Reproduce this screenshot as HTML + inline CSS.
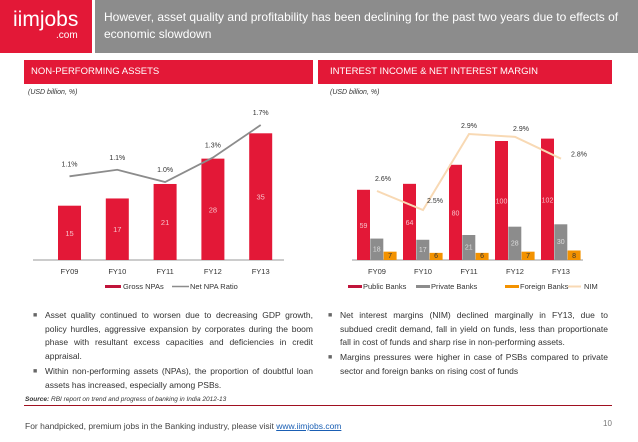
<!DOCTYPE html>
<html><head><meta charset="utf-8"><style>
body{margin:0;width:638px;height:442px;background:#fff;font-family:"Liberation Sans",sans-serif;position:relative;overflow:hidden}
.abs{position:absolute}
.bul{position:absolute;font-size:8.5px;color:#333;line-height:13.7px;text-align:justify}
.bul .b{position:absolute;left:-12px;top:0;font-size:7px;color:#666}
</style></head><body>
<div class="abs" style="left:0;top:0;width:92px;height:53px;background:#e31837"></div>
<div class="abs" style="left:13px;top:10px;color:#fff;font-size:21px;line-height:20px">iimjobs</div>
<div class="abs" style="left:56px;top:30px;color:#fff;font-size:10px">.com</div>
<div class="abs" style="left:95px;top:0;width:543px;height:53px;background:#8c8c8c"></div>
<div class="abs" style="left:104px;top:9px;width:530px;color:#fff;font-size:12px;line-height:17px">However, asset quality and profitability has been declining for the past two years due to effects of economic slowdown</div>
<div class="abs" style="left:24px;top:60px;width:289px;height:24px;background:#e31837;color:#fff;font-size:9.5px;line-height:24px;padding-left:7px;box-sizing:border-box">NON-PERFORMING ASSETS</div>
<div class="abs" style="left:318px;top:60px;width:294px;height:24px;background:#e31837;color:#fff;font-size:9.5px;line-height:24px;padding-left:12px;box-sizing:border-box">INTEREST INCOME &amp; NET INTEREST MARGIN</div>
<div class="abs" style="left:28px;top:89px;font-size:7px;font-style:italic;color:#333">(USD billion, %)</div>
<div class="abs" style="left:330px;top:89px;font-size:7px;font-style:italic;color:#333">(USD billion, %)</div>
<svg class="abs" style="left:0;top:0" width="638" height="300" id="charts"></svg>

<div class="bul" style="left:45px;top:309px;width:268px"><span class="b">■</span>Asset quality continued to worsen due to decreasing GDP growth, policy hurdles, aggressive expansion by corporates during the boom phase with resultant excess capacities and deficiencies in credit appraisal.</div>
<div class="bul" style="left:45px;top:365px;width:268px"><span class="b">■</span>Within non-performing assets (NPAs), the proportion of doubtful loan assets has increased, especially among PSBs.</div>
<div class="bul" style="left:340px;top:309px;width:268px"><span class="b">■</span>Net interest margins (NIM) declined marginally in FY13, due to subdued credit demand, fall in yield on funds, less than proportionate fall in cost of funds and sharp rise in non-performing assets.</div>
<div class="bul" style="left:340px;top:351px;width:268px"><span class="b">■</span>Margins pressures were higher in case of PSBs compared to private sector and foreign banks on rising cost of funds</div>
<div class="abs" style="left:25px;top:396px;font-size:6.5px;font-style:italic;color:#333"><b>Source:</b> RBI report on trend and progress of banking in India 2012-13</div>
<div class="abs" style="left:24px;top:405px;width:588px;height:1px;background:#a01020"></div>
<div class="abs" style="left:25px;top:421px;font-size:8.5px;color:#444">For handpicked, premium jobs in the Banking industry, please visit <span style="color:#1a5fb4;text-decoration:underline">www.iimjobs.com</span></div>
<div class="abs" style="left:603px;top:419px;font-size:8px;color:#777">10</div>

<script>
const npaCats=["FY09","FY10","FY11","FY12","FY13"];
const grossNpa=[15,17,21,28,35];
const netNpa=[1.07,1.15,1.0,1.3,1.7];
const netNpaLabels=["1.1%","1.1%","1.0%","1.3%","1.7%"];
const nimCats=["FY09","FY10","FY11","FY12","FY13"];
const publicBanks=[59,64,80,100,102];
const privateBanks=[18,17,21,28,30];
const foreignBanks=[7,6,6,7,8];
const nim=[2.6,2.5,2.9,2.885,2.77];
const nimLabels=["2.6%","2.5%","2.9%","2.9%","2.8%"];

const svg=document.getElementById('charts');
const NS='http://www.w3.org/2000/svg';
function mk(tag,attrs,txt){const e=document.createElementNS(NS,tag);for(const k in attrs)e.setAttribute(k,attrs[k]);if(txt!==undefined)e.textContent=txt;svg.appendChild(e);return e;}
const FONT='"Liberation Sans", sans-serif';

const base=260;
const lx=i=>69.5+i*47.8;
const ly=v=>base-v*3.62;
const lr=v=>182-(v-1.0)*81.4;
let ax=mk('line',{x1:33,x2:284,y1:base,y2:base,stroke:'#999','stroke-width':1});

npaCats.forEach((c,i)=>{
  const r=mk('rect',{x:lx(i)-11.5,y:ly(grossNpa[i]),width:23,height:base-ly(grossNpa[i]),fill:'#e31837'});
  
  const t=mk('text',{x:lx(i),y:(ly(grossNpa[i])+base)/2+3,'font-size':7.5,fill:'#f7c0c8','text-anchor':'middle','font-family':FONT},grossNpa[i]);
  
  const xl=mk('text',{x:lx(i),y:274,'font-size':7.5,fill:'#333','text-anchor':'middle','font-family':FONT},c);
  
  const nl=mk('text',{x:lx(i),y:lr(netNpa[i])-10,'font-size':7,fill:'#333','text-anchor':'middle','font-family':FONT},netNpaLabels[i]);
  
});
let pl=mk('polyline',{points:netNpa.map((v,i)=>lx(i)+','+lr(v)).join(' '),fill:'none',stroke:'#8c8c8c','stroke-width':1.8});

let lg=mk('rect',{x:105,y:285,width:16,height:3,fill:'#c0143a'});
let lt=mk('text',{x:123,y:289,'font-size':7.5,fill:'#333','font-family':FONT},'Gross NPAs');
let lg2=mk('line',{x1:172,x2:189,y1:286.5,y2:286.5,stroke:'#8c8c8c','stroke-width':1.5});
let lt2=mk('text',{x:190,y:289,'font-size':7.5,fill:'#333','font-family':FONT},'Net NPA Ratio');

const rx=i=>377+i*46;
const ry=v=>base-v*1.19;
const rn=v=>210-(v-2.5)*190;
let ax2=mk('line',{x1:352,x2:583,y1:base,y2:base,stroke:'#999','stroke-width':1});

const series=[[publicBanks,'#e31837','public-banks-bar','#f7c0c8'],[privateBanks,'#8c8c8c','private-banks-bar','#ddd'],[foreignBanks,'#f39200','foreign-banks-bar','#333']];
nimCats.forEach((c,i)=>{
  series.forEach((s,k)=>{
    const v=s[0][i];const x=rx(i)-20+k*13.3;
    const r=mk('rect',{x:x,y:ry(v),width:13,height:base-ry(v),fill:s[1]});
    
    const ty=k==2?base-2:(ry(v)+base)/2+(k==1?2:3);
    const t=mk('text',{x:x+6.5,y:ty,'font-size':7,fill:s[3],'text-anchor':'middle','font-family':FONT},v);
    
  });
  const xl=mk('text',{x:rx(i),y:274,'font-size':7.5,fill:'#333','text-anchor':'middle','font-family':FONT},c);
  
});
let pl2=mk('polyline',{points:nim.map((v,i)=>rx(i)+','+rn(v)).join(' '),fill:'none',stroke:'#f8d9b4','stroke-width':2});

const off=[[6,-10],[12,-7],[0,-6],[6,-6],[18,-2]];
nim.forEach((v,i)=>{
  const t=mk('text',{x:rx(i)+off[i][0],y:rn(v)+off[i][1],'font-size':7,fill:'#333','text-anchor':'middle','font-family':FONT},nimLabels[i]);
  
});
const leg=[[348,'#c0143a','Public Banks','legend-public-banks'],[416,'#8c8c8c','Private Banks','legend-private-banks'],[505,'#f39200','Foreign Banks','legend-foreign-banks']];
leg.forEach(l=>{
  const r=mk('rect',{x:l[0],y:285,width:14,height:3,fill:l[1]});
  const t=mk('text',{x:l[0]+15,y:289,'font-size':7.5,fill:'#333','font-family':FONT},l[2]);
});
let nl=mk('line',{x1:568,x2:581,y1:286.5,y2:286.5,stroke:'#f8d9b4','stroke-width':2});
let nt=mk('text',{x:584,y:289,'font-size':7.5,fill:'#333','font-family':FONT},'NIM');
</script>
</body></html>
